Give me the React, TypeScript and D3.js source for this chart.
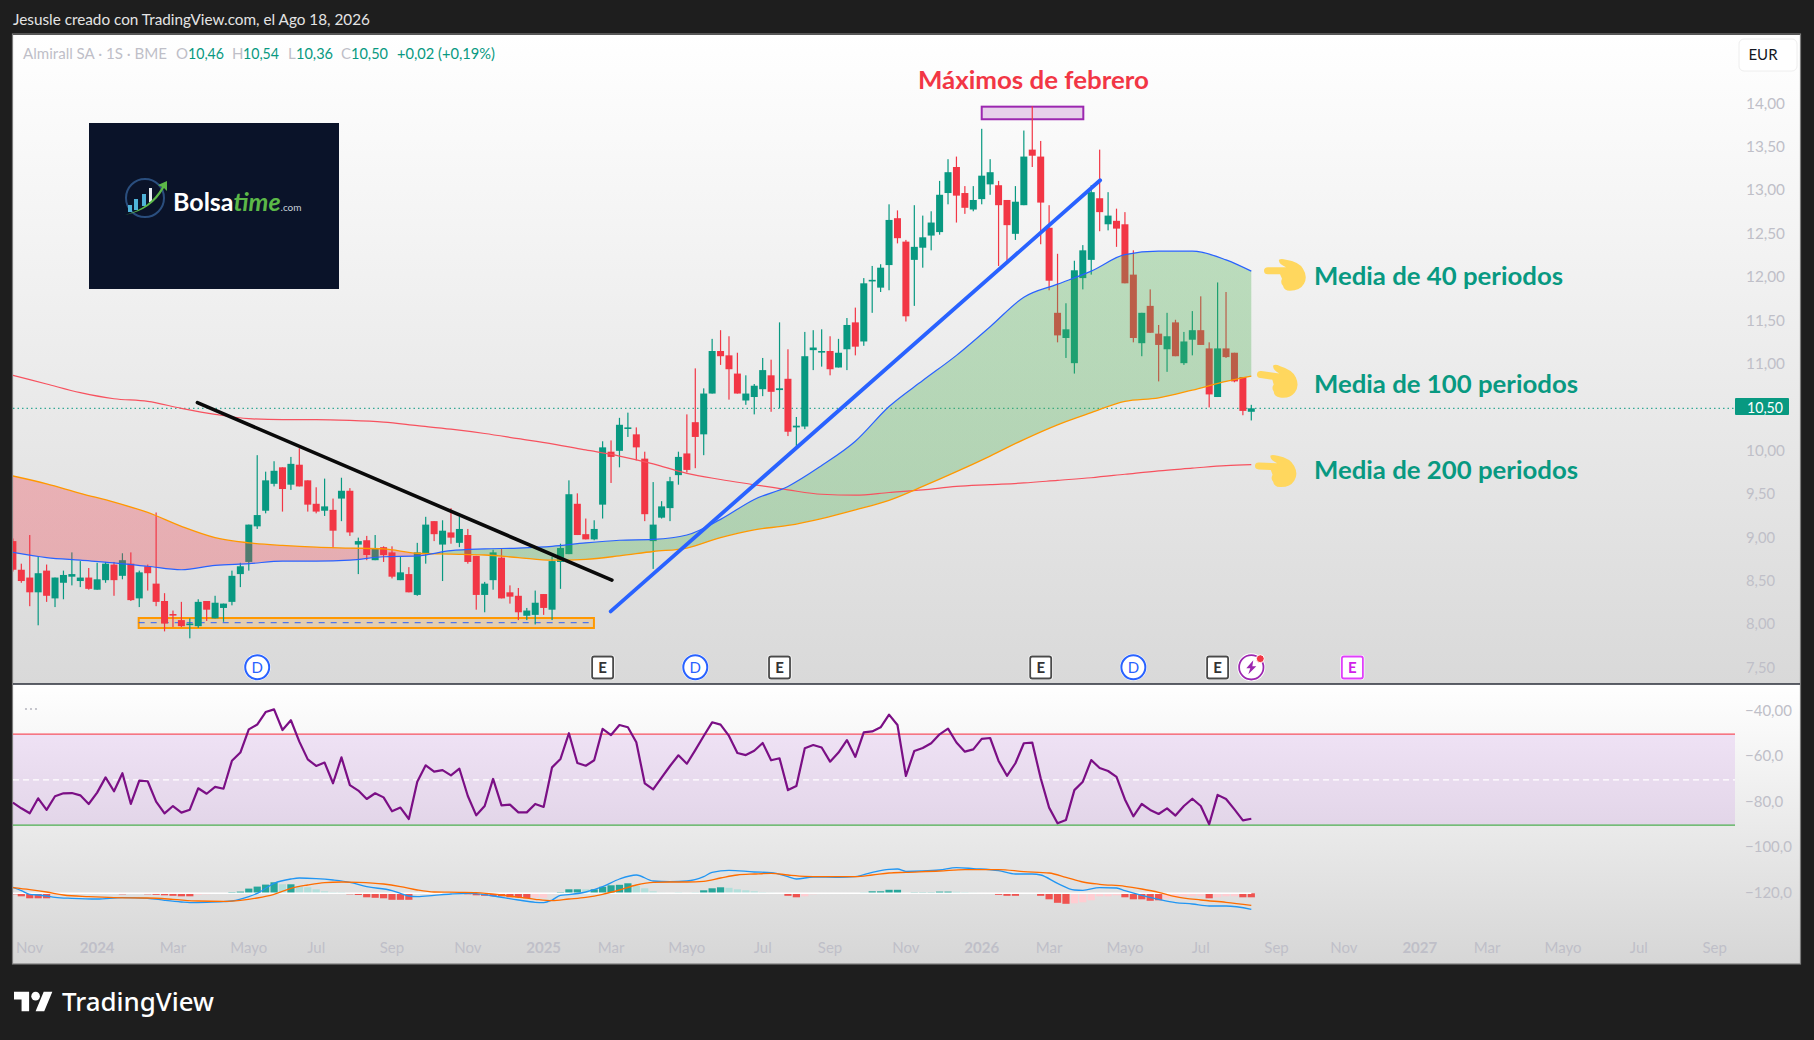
import React from 'react';
import * as d3 from 'd3';

// weekly candles, Almirall SA, week 0 is clipped by the left edge of the pane
const opens = [8.97,8.64,8.55,8.38,8.63,8.31,8.49,8.56,8.51,8.55,8.41,8.52,8.70,8.57,8.71,8.31,8.68,8.48,8.28,8.13,8.06,8.01,7.99,8.28,8.08,8.20,8.27,8.59,8.73,9.14,9.32,9.63,9.82,9.62,9.85,9.67,9.40,9.32,9.33,9.46,9.55,8.93,8.98,8.75,8.90,8.84,8.52,8.59,8.35,8.83,9.20,8.93,9.07,8.95,9.04,8.80,8.35,8.52,8.78,8.38,8.34,8.11,8.12,8.36,8.18,8.73,8.82,9.40,9.05,8.99,9.39,10.00,10.01,10.27,10.20,9.92,8.97,9.24,9.35,9.73,9.98,10.34,10.20,10.67,11.16,11.11,10.90,10.59,10.63,10.72,10.88,10.71,10.84,10.28,10.29,11.17,11.15,11.16,10.97,11.18,11.49,11.27,11.97,11.89,12.15,12.69,12.42,12.21,12.35,12.49,12.53,12.98,13.28,12.98,12.79,12.91,13.08,13.07,12.90,12.51,12.84,13.48,13.40,12.58,11.60,11.31,11.02,12.00,12.21,12.92,12.62,12.66,12.62,12.04,11.25,11.68,11.36,11.18,11.49,11.02,11.29,11.40,11.19,10.63,11.19,11.14,10.86,10.46];
const closes = [8.64,8.51,8.38,8.60,8.34,8.55,8.58,8.59,8.55,8.42,8.53,8.71,8.52,8.75,8.29,8.61,8.60,8.27,8.02,8.12,7.99,8.02,8.27,8.18,8.26,8.25,8.57,8.68,9.16,9.27,9.67,9.78,9.57,9.86,9.60,9.39,9.31,9.37,9.09,9.55,9.07,8.97,8.81,8.89,8.81,8.56,8.61,8.38,8.84,9.16,9.05,9.09,9.01,9.11,8.73,8.35,8.48,8.84,8.31,8.33,8.15,8.17,8.26,8.20,8.74,8.89,9.51,9.04,8.99,9.11,10.05,9.94,10.31,10.28,10.05,9.28,9.16,9.37,9.66,9.94,9.79,10.17,10.67,11.16,11.10,10.95,10.67,10.67,10.76,10.94,10.69,10.73,10.23,10.30,11.10,11.20,11.16,10.95,11.14,11.46,11.21,11.94,11.98,12.12,12.67,12.46,11.56,12.36,12.47,12.64,12.96,13.22,12.95,12.81,12.90,13.18,13.22,12.84,12.61,12.88,13.40,13.41,12.87,11.97,11.34,11.41,12.09,12.32,12.99,12.76,12.72,12.57,11.94,11.31,11.60,11.37,11.23,11.33,11.10,11.27,11.40,11.23,10.66,11.19,11.09,10.81,10.47,10.50];
const highs = [9.00,8.71,9.04,8.79,8.70,8.55,8.63,8.84,8.74,8.66,8.72,8.73,8.73,8.83,8.84,8.63,8.70,9.30,8.37,8.17,8.27,8.08,8.30,8.28,8.34,8.25,8.63,8.72,9.16,9.96,9.77,9.89,9.82,9.94,10.04,9.67,9.59,9.69,9.46,9.70,9.58,9.01,9.03,9.04,8.91,8.91,8.79,8.67,8.95,9.25,9.20,9.21,9.35,9.25,9.11,8.80,8.50,8.87,8.88,8.46,8.43,8.20,8.40,8.36,8.79,8.94,9.67,9.52,9.23,9.21,10.12,10.13,10.39,10.45,10.28,10.00,9.65,9.43,9.71,10.00,10.43,10.96,10.73,11.30,11.40,11.33,11.14,10.88,10.78,11.08,11.06,11.49,11.18,10.40,11.38,11.40,11.41,11.33,11.30,11.54,11.66,12.00,12.14,12.16,12.85,12.78,12.44,12.84,12.72,12.77,13.12,13.37,13.40,13.06,13.06,13.72,13.37,13.12,12.90,13.06,13.70,13.98,13.58,12.84,12.28,11.71,12.20,12.38,13.07,13.48,12.99,12.80,12.76,12.32,11.60,11.87,11.46,11.60,11.52,11.38,11.62,11.79,11.26,11.95,11.84,11.14,10.86,10.54];
const lows = [8.62,8.49,8.22,8.00,8.27,8.21,8.30,8.46,8.44,8.41,8.41,8.49,8.34,8.53,8.28,8.21,8.40,8.22,7.93,7.98,7.98,7.85,7.97,8.05,8.08,8.04,8.23,8.44,8.63,9.11,9.29,9.60,9.31,9.56,9.60,9.31,9.29,9.26,8.89,9.20,9.03,8.59,8.75,8.75,8.73,8.54,8.52,8.38,8.34,8.71,8.97,8.51,8.94,8.90,8.71,8.18,8.15,8.41,8.31,8.25,8.06,8.06,8.01,8.12,8.06,8.42,8.82,9.04,8.99,8.98,9.23,9.64,9.82,10.17,9.90,9.20,8.65,9.23,9.20,9.62,9.76,9.81,9.96,10.67,11.00,10.60,10.67,10.54,10.43,10.64,10.46,10.50,10.18,10.05,10.26,10.94,10.98,10.88,10.97,10.94,11.11,11.22,11.60,11.84,11.86,12.40,11.50,11.68,12.12,12.32,12.50,12.85,12.64,12.74,12.77,12.85,12.96,12.14,12.20,12.44,12.84,13.28,12.39,11.86,11.26,11.08,10.90,11.87,12.04,12.54,12.55,12.36,11.94,11.26,11.10,11.37,10.81,10.92,11.10,11.00,11.11,11.23,10.51,10.63,11.08,10.80,10.42,10.36];

// moving averages, read every four weeks
const maWeeks = [0,4,8,12,16,20,24,28,32,36,40,44,48,52,56,60,64,68,72,76,80,84,88,92,96,100,104,108,112,116,120,124,128,132,136,140,144,147];
const ma200 = [10.88,10.78,10.68,10.61,10.58,10.50,10.43,10.38,10.37,10.37,10.36,10.34,10.30,10.26,10.21,10.15,10.09,10.02,9.95,9.86,9.75,9.68,9.62,9.56,9.51,9.50,9.53,9.56,9.60,9.62,9.64,9.67,9.70,9.74,9.78,9.81,9.84,9.85];
const ma100 = [9.72,9.63,9.52,9.42,9.30,9.14,9.01,8.95,8.92,8.90,8.89,8.88,8.83,8.82,8.81,8.78,8.75,8.76,8.80,8.85,8.89,9.01,9.10,9.15,9.23,9.33,9.44,9.60,9.77,9.95,10.14,10.31,10.45,10.58,10.62,10.71,10.81,10.87];
const ma40 = [8.84,8.78,8.75,8.72,8.68,8.64,8.69,8.71,8.74,8.74,8.75,8.79,8.80,8.86,8.88,8.89,8.91,8.95,8.98,8.99,9.04,9.22,9.45,9.60,9.84,10.12,10.52,10.82,11.11,11.44,11.78,11.93,12.08,12.27,12.31,12.31,12.21,12.08];
const crossWeek = 49.5;

// lower pane: oscillator, one value per week
const oscillator = [-80.4,-82.9,-85.1,-78.5,-83.6,-77.6,-76.3,-76.2,-77.2,-81.0,-76.0,-69.3,-75.4,-67.5,-81.0,-70.7,-71.0,-80.0,-85.1,-81.9,-84.8,-83.5,-74.1,-76.5,-73.5,-74.3,-62.0,-58.4,-48.2,-46.1,-40.6,-39.4,-48.5,-44.2,-53.6,-61.4,-64.3,-62.8,-71.9,-60.5,-72.7,-75.1,-78.8,-76.3,-78.1,-84.2,-82.6,-87.6,-71.2,-64.0,-66.8,-66.1,-68.4,-65.5,-77.5,-86.0,-81.9,-70.0,-81.6,-81.3,-84.7,-84.7,-81.0,-82.3,-64.9,-61.2,-49.9,-63.0,-64.2,-61.8,-48.0,-50.7,-46.3,-47.3,-53.9,-71.9,-74.6,-69.4,-64.3,-59.6,-63.3,-57.3,-51.1,-45.1,-46.1,-51.1,-58.6,-59.5,-57.6,-54.2,-61.8,-60.9,-74.9,-73.1,-56.5,-55.1,-56.2,-62.4,-58.4,-52.9,-60.3,-49.5,-49.1,-47.3,-41.7,-46.3,-68.7,-57.7,-56.4,-54.3,-50.4,-47.9,-54.0,-58.0,-57.0,-52.4,-52.0,-62.1,-68.6,-63.1,-54.3,-54.0,-69.7,-82.6,-89.5,-88.0,-74.9,-71.2,-61.7,-65.2,-66.5,-69.1,-79.0,-86.4,-81.0,-83.6,-85.4,-82.9,-86.1,-81.9,-78.7,-81.9,-89.9,-77.0,-78.8,-83.4,-88.2,-87.5];
const oscillatorBands = [-50.3, -70.4, -90.3];

// MACD, in hundredths of a euro
const histogram = [-1,-3,-5,-5,-5,-1,-.5,-.5,-.7,-.7,-.7,-.5,-.5,-1,-.5,-.5,-1,-1.5,-2,-2.5,-3,-3,-1.5,-1,-.5,0,1,1.7,4.7,6.7,8.7,11,9,9,6.7,6,4,2,1,1,-1,-1.7,-4,-4.5,-5,-6.5,-6.5,-6.5,-.5,-.5,-.5,-.5,-.5,.5,-1,-2,-2.5,-3,-3,-4,-4,-5,-4,-4.5,-1,1,4,4,4,4,6.5,8,8.5,10,7.5,5,2,.5,0,1,0,1,3,5,6,5.5,4,3,2,1,.5,-.7,-2.5,-4,-3,-1,-.7,-.7,-.5,0,-.7,1,2,2,3.5,3.5,.5,.7,.7,.7,1.7,1.7,1.5,1,.5,0,0,-1.5,-2.5,-2.5,-.7,-.7,-2.5,-6,-9.5,-10.5,-10,-9,-7,-3,-3,-2,-4,-6,-6,-7.5,-7,-5,-4,-3,-3,-3,-5,-4,-3,-3,-4,-4];
const strongWeeks = [0,1,2,3,4,13,16,17,18,19,20,21,26,27,28,29,30,31,33,40,41,42,43,44,45,46,47,54,55,56,57,58,59,60,61,65,66,67,69,70,71,72,73,82,83,84,91,92,93,97,100,102,103,104,105,107,108,109,110,111,117,118,119,122,123,124,125,132,133,134,135,136,142,146,147];
const macdWeeks = [0,1,2,3,4,5,7,10,13,16,18,20,21,23,25,26,28,29,31,33,34,36,38,40,42,45,46,47,48,50,52,54,55,57,60,62,63,64,65,66,68,70,72,74,76,78,80,82,83,85,88,90,92,93,95,98,100,102,104,105,106,108,110,112,114,117,119,121,122,124,126,127,129,131,132,134,136,138,140,142,144,147];
const macdLine = [6,2.7,-1,-1.7,-2.7,-4,-5,-5.7,-4.3,-5,-7,-8.7,-9.3,-9,-8.3,-7.7,-3.3,0,10,14.3,15.3,14.7,13.3,11,6.7,2.7,0,-2.7,-3.3,-2,-.7,0,-.3,-2.7,-6.7,-9,-9.3,-6.7,-2,-1.3,1.3,6.7,14.3,18.3,12.3,11.7,12.3,16.7,21,23,21.3,20.7,16.7,14.3,16.3,16,16.7,21,24,24.3,22,22.3,23.3,25.7,24.7,22.7,19.3,19.3,18.3,10,3.3,3,5.7,5.3,2.7,-2,-6,-9.3,-10.7,-12.7,-12.7,-16];
const signalWeeks = [0,2,4,6,9,12,16,19,22,25,27,29,31,33,35,37,39,41,44,46,48,50,53,55,58,60,62,64,66,68,70,72,74,76,78,80,82,84,86,88,90,92,94,96,98,100,102,104,106,110,113,117,120,123,125,127,129,132,134,136,138,141,144,147];
const signalLine = [5.7,3.7,1.3,-1.7,-3.3,-4.3,-4.7,-6,-7.7,-8,-7,-4.7,-1,5,8.3,10.7,11.3,11,9.3,6.7,3.3,1.3,1,.7,-1.7,-4,-6,-7.3,-5.7,-4,-1,3.3,8.3,11,11.3,11.3,12,15.3,18.3,19.3,20,18.3,17,16.7,16.7,16.7,18.3,20.3,21,22.3,23.7,23.7,21.7,20.3,16,11.3,9,7,4.3,1,-3.3,-6.7,-9,-12];

// axes
const priceTicks = [14,13.5,13,12.5,12,11.5,11,10.5,10,9.5,9,8.5,8,7.5];
const oscTicks = [{ v: -40, t: '−40,00' }, { v: -60, t: '−60,0' }, { v: -80, t: '−80,0' }, { v: -100, t: '−100,0' }, { v: -120, t: '−120,0' }];
const timeWeeks = [2,10,19,28,36,45,54,63,71,80,89,97,106,115,123,132,141,150,158,167,175,184,193,202];
const timeLabels = ['Nov','2024','Mar','Mayo','Jul','Sep','Nov','2025','Mar','Mayo','Jul','Sep','Nov','2026','Mar','Mayo','Jul','Sep','Nov','2027','Mar','Mayo','Jul','Sep'];

// events along the foot of the main pane
const dividendWeeks = [29, 81, 133];
const earningsWeeks = [70, 91, 122, 143];
const nextEarningsWeek = 159;
const flashWeek = 147;

const GREEN = '#089981';
const RED = '#f23645';
const UI_FONT = 'Lato, sans-serif';
const AXIS_GREY = '#bfbfc8';

const x = d3.scaleLinear().domain([0, 147]).range([12.9, 1251.3]);
const y = d3.scaleLinear().domain([10.5, 14]).range([408.3, 104.5]);
const yOsc = d3.scaleLinear().domain([-40, -120]).range([710.7, 892.7]);
const yMacd = d3.scaleLinear().domain([-50, 50]).range([943.3, 843.3]);

const PANE_L = 13, PANE_R = 1800, AXIS_X = 1735, PANE_T = 35, SPLIT = 684, PANE_B = 964;

const maLine = (values: number[]) =>
  d3.line<number>().x((_, i) => x(maWeeks[i])).y(d => y(d)).curve(d3.curveMonotoneX)(values) || '';
const cloud = d3.area<number>().x((_, i) => x(maWeeks[i])).y0(d => y(d)).y1((_, i) => y(ma40[i])).curve(d3.curveMonotoneX);
const oscPath = d3.line<number>().x((_, i) => x(i)).y(d => yOsc(d));
const pairLine = (weeks: number[], values: number[]) =>
  d3.line<number>().x((_, i) => x(weeks[i])).y(d => yMacd(d)).curve(d3.curveMonotoneX)(values) || '';

const Hand = ({ px, py, rot }: { px: number; py: number; rot: number }) => (
  <path
    transform={`translate(${px},${py}) rotate(${rot})`}
    fill="#ffd75e"
    d="M0,0 Q0,-3.5 4,-3.5 L22,-3.5 Q14,-7 15,-11 Q17,-12.5 22,-11 Q35,-9 39,-2 Q44,6 40,13 Q36,20 26,20 Q20,20 19,15 Q16,12 18,8 L16,3.5 L4,3.5 Q0,3.5 0,0 Z"
  />
);

const Dividend = ({ cx }: { cx: number }) => (
  <g>
    <circle cx={cx} cy={667.3} r={13.5} fill="#fff" />
    <circle cx={cx} cy={667.3} r={12} fill="#fff" stroke="#2962ff" strokeWidth={2} />
    <text x={cx} y={672.5} textAnchor="middle" fontFamily={UI_FONT} fontSize={15} fill="#2962ff">D</text>
  </g>
);

const Earnings = ({ cx, color, text }: { cx: number; color: string; text: string }) => (
  <g>
    <rect x={cx - 12} y={655} width={24} height={25} rx={3} fill="#fff" />
    <rect x={cx - 10.5} y={656.5} width={21} height={22} rx={2} fill="#fff" stroke={color} strokeWidth={1.8} />
    <text x={cx} y={672.5} textAnchor="middle" fontFamily={UI_FONT} fontSize={15} fontWeight={700} fill={text}>E</text>
  </g>
);

const Logo = () => (
  <g>
    <rect x={89} y={123} width={250} height={166} fill="#0a1329" />
    <circle cx={145} cy={198} r={19} fill="none" stroke="#2a4e7e" strokeWidth={2} />
    <rect x={128} y={205} width={4} height={7} fill="#4fb3d9" />
    <rect x={134} y={199} width={4} height={11} fill="#4fb3d9" />
    <rect x={142} y={194} width={4} height={12} fill="#4fb3d9" />
    <rect x={149} y={188} width={3} height={14} fill="#e8edf2" />
    <path d="M125,215 Q150,208 162,187 L158,185 L167,181 L167,191 L164,188 Q152,210 125,215 Z" fill="#5cb848" />
    <text x={173} y={211} fontFamily={UI_FONT} fontSize={25} fontWeight={700} fill="#fff">
      Bolsa<tspan fontStyle="italic" fill="#5cb848">time</tspan><tspan fontSize={10} fontWeight={400} fill="#c9d2da">.com</tspan>
    </text>
  </g>
);

export default function App() {
  return (
    <svg width={1814} height={1040} style={{ position: 'fixed', left: 0, top: 0, display: 'block' }}>
      <defs>
        <linearGradient id="mainBg" x1="0" y1="0" x2="0" y2="1">
          <stop offset="0" stopColor="#ffffff" />
          <stop offset="1" stopColor="#d9d9d9" />
        </linearGradient>
        <linearGradient id="lowerBg" x1="0" y1="0" x2="0" y2="1">
          <stop offset="0" stopColor="#ffffff" />
          <stop offset="1" stopColor="#d6d6d6" />
        </linearGradient>
        <linearGradient id="cloudFill" gradientUnits="userSpaceOnUse" x1={x(0)} y1="0" x2={x(147)} y2="0">
          <stop offset={(crossWeek / 147).toString()} stopColor="#f23645" stopOpacity={0.3} />
          <stop offset={(crossWeek / 147).toString()} stopColor="#4caf50" stopOpacity={0.33} />
        </linearGradient>
        <clipPath id="plot">
          <rect x={PANE_L} y={PANE_T} width={AXIS_X - PANE_L} height={SPLIT - PANE_T} />
        </clipPath>
      </defs>

      <rect width={1814} height={1040} fill="#1e1e1e" />
      <text x={13} y={25} fontFamily={UI_FONT} fontSize={15} fill="#e4e4e4" textLength={357} lengthAdjust="spacingAndGlyphs">
        Jesusle creado con TradingView.com, el Ago 18, 2026
      </text>

      <rect x={PANE_L} y={PANE_T} width={PANE_R - PANE_L} height={SPLIT - PANE_T} fill="url(#mainBg)" />
      <rect x={PANE_L} y={SPLIT} width={PANE_R - PANE_L} height={PANE_B - SPLIT} fill="url(#lowerBg)" />
      <rect x={PANE_L - 0.5} y={PANE_T - 1} width={PANE_R - PANE_L + 1} height={PANE_B - PANE_T + 1} fill="none" stroke="#7c7c7c" strokeWidth={1.2} />
      <line x1={PANE_L} x2={PANE_R} y1={SPLIT} y2={SPLIT} stroke="#2a2e39" strokeWidth={1.5} />

      <Logo />

      {/* legend */}
      <g fontFamily={UI_FONT} fontSize={15}>
        <text x={23} y={58.5} fill={AXIS_GREY} textLength={144} lengthAdjust="spacingAndGlyphs">Almirall SA · 1S · BME</text>
        <text x={176} y={58.5} fill={AXIS_GREY}>O</text>
        <text x={188} y={58.5} fill={GREEN} textLength={36} lengthAdjust="spacingAndGlyphs">10,46</text>
        <text x={232} y={58.5} fill={AXIS_GREY}>H</text>
        <text x={243} y={58.5} fill={GREEN} textLength={36} lengthAdjust="spacingAndGlyphs">10,54</text>
        <text x={288} y={58.5} fill={AXIS_GREY}>L</text>
        <text x={296} y={58.5} fill={GREEN} textLength={37} lengthAdjust="spacingAndGlyphs">10,36</text>
        <text x={341} y={58.5} fill={AXIS_GREY}>C</text>
        <text x={351} y={58.5} fill={GREEN} textLength={37} lengthAdjust="spacingAndGlyphs">10,50</text>
        <text x={397} y={58.5} fill={GREEN} textLength={98} lengthAdjust="spacingAndGlyphs">+0,02 (+0,19%)</text>
      </g>

      {/* drawn zones under the candles */}
      <rect x={x(14.93)} y={y(8.084)} width={x(68.97) - x(14.93)} height={y(7.969) - y(8.084)} fill="#ff9800" fillOpacity={0.2} stroke="#ff9800" strokeWidth={2} />
      <line x1={x(14.93)} x2={x(68.97)} y1={y(8.03)} y2={y(8.03)} stroke="#2962ff" strokeWidth={1} strokeDasharray="6 6" />
      <rect x={x(115)} y={y(13.975)} width={x(127.06) - x(115)} height={y(13.83) - y(13.975)} fill="#9c27b0" fillOpacity={0.2} stroke="#9c27b0" strokeWidth={2} />

      <line x1={PANE_L} x2={AXIS_X} y1={y(10.5)} y2={y(10.5)} stroke={GREEN} strokeWidth={1} strokeDasharray="1.5 3" />

      <g clipPath="url(#plot)">
        {opens.map((o, i) => {
          const c = closes[i];
          const color = c >= o ? GREEN : RED;
          const top = y(Math.max(o, c));
          const h = Math.max(y(Math.min(o, c)) - top, 1.6);
          return (
            <g key={i} fill={color}>
              <rect x={x(i) - 0.6} width={1.2} y={y(highs[i])} height={y(lows[i]) - y(highs[i])} />
              <rect x={x(i) - 3.5} width={7} y={top} height={h} />
            </g>
          );
        })}
        <path d={cloud(ma100) || ''} fill="url(#cloudFill)" />
        <path d={maLine(ma200)} fill="none" stroke="#f7525f" strokeWidth={1.2} />
        <path d={maLine(ma100)} fill="none" stroke="#ff9800" strokeWidth={1.3} />
        <path d={maLine(ma40)} fill="none" stroke="#2962ff" strokeWidth={1.2} />
      </g>

      {/* trend lines */}
      <line x1={x(21.9)} y1={y(10.565)} x2={x(71.1)} y2={y(8.52)} stroke="#0a0a0a" strokeWidth={3.6} strokeLinecap="round" />
      <line x1={x(70.96)} y1={y(8.16)} x2={x(129.06)} y2={y(13.127)} stroke="#2962ff" strokeWidth={3.8} strokeLinecap="round" />

      {/* notes */}
      <text x={918} y={89} fontFamily={UI_FONT} fontSize={25} fontWeight={700} fill={RED} textLength={231} lengthAdjust="spacingAndGlyphs">Máximos de febrero</text>
      <g fontFamily={UI_FONT} fontSize={25} fontWeight={700} fill={GREEN}>
        <text x={1314} y={285.3} textLength={249} lengthAdjust="spacingAndGlyphs">Media de 40 periodos</text>
        <text x={1314} y={393} textLength={264} lengthAdjust="spacingAndGlyphs">Media de 100 periodos</text>
        <text x={1314} y={479} textLength={264} lengthAdjust="spacingAndGlyphs">Media de 200 periodos</text>
      </g>
      <Hand px={1264} py={270.7} rot={0} />
      <Hand px={1257} py={374} rot={8} />
      <Hand px={1255} py={465.7} rot={3} />

      {/* events */}
      {dividendWeeks.map(w => <Dividend key={w} cx={x(w)} />)}
      {earningsWeeks.map(w => <Earnings key={w} cx={x(w)} color="#4a4a4a" text="#333" />)}
      <Earnings cx={x(nextEarningsWeek)} color="#e040fb" text="#d020e8" />
      <g>
        <circle cx={x(flashWeek)} cy={667.3} r={14} fill="#fff" />
        <circle cx={x(flashWeek)} cy={667.3} r={12.2} fill="#fff" stroke="#9c27b0" strokeWidth={1.8} />
        <path transform={`translate(${x(flashWeek)},667.3)`} d="M2,-7 L-5,1 L-1,1 L-3,7 L5,-1 L1,-1 Z" fill="#9c27b0" />
        <circle cx={x(flashWeek) + 9} cy={658.7} r={4} fill="#f23645" stroke="#fff" strokeWidth={1} />
      </g>

      {/* lower pane */}
      <g fill="#b9b9c2">
        <circle cx={26} cy={709} r={1.1} /><circle cx={31} cy={709} r={1.1} /><circle cx={36} cy={709} r={1.1} />
      </g>
      <rect x={PANE_L} width={AXIS_X - PANE_L} y={yOsc(oscillatorBands[0])} height={yOsc(oscillatorBands[2]) - yOsc(oscillatorBands[0])} fill="rgb(176,75,224)" fillOpacity={0.13} />
      <line x1={PANE_L} x2={AXIS_X} y1={yOsc(oscillatorBands[0])} y2={yOsc(oscillatorBands[0])} stroke="#f7525f" strokeWidth={1.2} />
      <line x1={PANE_L} x2={AXIS_X} y1={yOsc(oscillatorBands[1])} y2={yOsc(oscillatorBands[1])} stroke="#ffffff" strokeWidth={1.2} strokeDasharray="6 4" />
      <line x1={PANE_L} x2={AXIS_X} y1={yOsc(oscillatorBands[2])} y2={yOsc(oscillatorBands[2])} stroke="#4caf50" strokeWidth={1.2} />
      <path d={oscPath(oscillator) || ''} fill="none" stroke="#7b0f85" strokeWidth={2.2} strokeLinejoin="round" />

      {histogram.map((v, i) => {
        const strong = strongWeeks.includes(i);
        const color = v >= 0 ? (strong ? '#26a69a' : '#b2dfdb') : (strong ? '#ef5350' : '#ffcdd2');
        const y0 = yMacd(Math.max(v, 0));
        const h = Math.abs(yMacd(v) - yMacd(0));
        return <rect key={i} x={Math.max(x(i) - 3.6, PANE_L)} width={7.2} y={y0} height={h} fill={color} />;
      })}
      <line x1={PANE_L} x2={x(147)} y1={yMacd(0)} y2={yMacd(0)} stroke="#ffffff" strokeWidth={1.4} />
      <path d={pairLine(macdWeeks, macdLine)} fill="none" stroke="#2196f3" strokeWidth={1.3} />
      <path d={pairLine(signalWeeks, signalLine)} fill="none" stroke="#ff6d00" strokeWidth={1.3} />

      {/* price axis */}
      <g fontFamily={UI_FONT} fontSize={15} fill={AXIS_GREY}>
        {priceTicks.map(t => (
          <text key={t} x={1746} y={y(t) + 4} textLength={t < 10 ? 29 : 39} lengthAdjust="spacingAndGlyphs">{t.toFixed(2).replace('.', ',')}</text>
        ))}
        {oscTicks.map(t => (
          <text key={t.v} x={1745} y={yOsc(t.v) + 5}>{t.t}</text>
        ))}
      </g>
      <rect x={AXIS_X} y={398} width={54} height={17} rx={1} fill={GREEN} />
      <text x={1747} y={412.8} fontFamily={UI_FONT} fontSize={15} fill="#fff" textLength={36} lengthAdjust="spacingAndGlyphs">10,50</text>
      <rect x={1739} y={39} width={58} height={32} rx={5} fill="#fff" stroke="#eeeeee" />
      <text x={1763} y={60} textAnchor="middle" fontFamily={UI_FONT} fontSize={15} fill="#131722">EUR</text>

      {/* time axis */}
      <g fontFamily={UI_FONT} fontSize={15} fill={AXIS_GREY} textAnchor="middle">
        {timeWeeks.map((w, i) => (
          <text key={w} x={x(w)} y={952.5} fontWeight={timeLabels[i].startsWith('20') ? 700 : 400}>{timeLabels[i]}</text>
        ))}
      </g>

      {/* footer */}
      <g fill="#ffffff" transform="translate(14,987.5) scale(1.08)">
        <path d="M14 22H7V11H0V4h14v18zM28 22h-8l7.5-18h8L28 22z" />
        <circle cx={20} cy={8} r={4} />
      </g>
      <text x={62} y={1011} fontFamily='"Noto Sans", sans-serif' fontSize={25} fontWeight={500} fill="#ffffff" textLength={152} lengthAdjust="spacingAndGlyphs">TradingView</text>
    </svg>
  );
}
